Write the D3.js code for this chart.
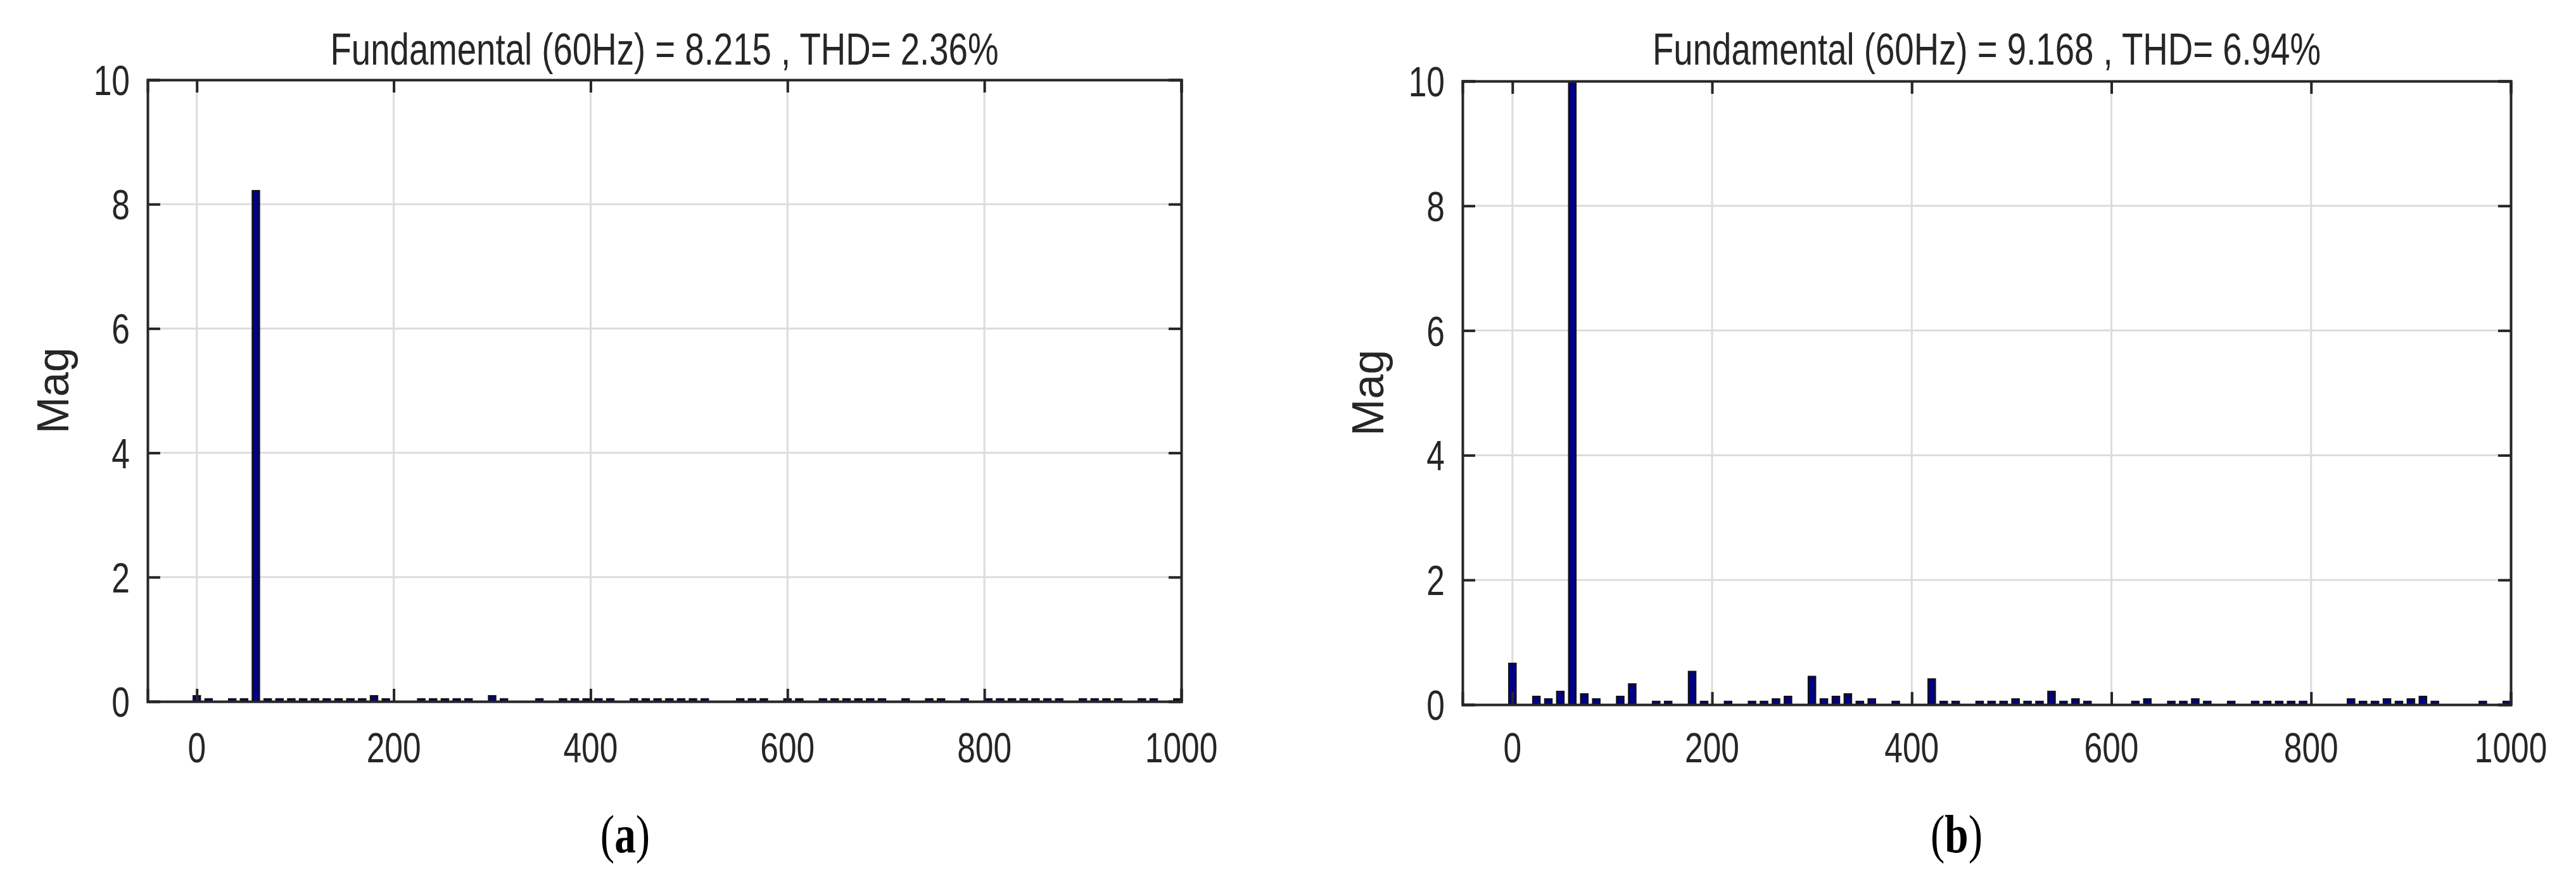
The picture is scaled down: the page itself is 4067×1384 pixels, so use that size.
<!DOCTYPE html>
<html><head><meta charset="utf-8">
<script src="https://cdn.jsdelivr.net/npm/d3@7"></script>
<style>body{margin:0;background:#fff}</style></head>
<body><svg id="c" width="4067" height="1384"></svg>
<script>
const xTicks=[0,200,400,600,800,1000];
const yTicks=[0,2,4,6,8,10];
const titleA="Fundamental (60Hz) = 8.215 , THD= 2.36%";
const titleB="Fundamental (60Hz) = 9.168 , THD= 6.94%";
const freqA=[0,12,36,48,60,72,84,96,108,120,132,144,156,168,180,192,228,240,252,264,276,300,312,348,372,384,396,408,420,444,456,468,480,492,504,516,552,564,576,600,612,636,648,660,672,684,696,720,744,756,780,804,816,828,840,852,864,876,900,912,924,936,960,972,996];
const magA=[0.09,0.04,0.04,0.04,8.215,0.04,0.04,0.04,0.04,0.04,0.04,0.04,0.04,0.04,0.09,0.04,0.04,0.04,0.04,0.04,0.04,0.09,0.04,0.04,0.04,0.04,0.04,0.04,0.04,0.04,0.04,0.04,0.04,0.04,0.04,0.04,0.04,0.04,0.04,0.04,0.04,0.04,0.04,0.04,0.04,0.04,0.04,0.04,0.04,0.04,0.04,0.04,0.04,0.04,0.04,0.04,0.04,0.04,0.04,0.04,0.04,0.04,0.04,0.04,0.04];
const freqB=[0,24,36,48,60,72,84,108,120,144,156,180,192,216,240,252,264,276,300,312,324,336,348,360,384,420,432,444,468,480,492,504,516,528,540,552,564,576,624,636,660,672,684,696,720,744,756,768,780,792,840,852,864,876,888,900,912,924,972,996];
const magB=[0.66,0.13,0.09,0.21,10,0.17,0.09,0.13,0.33,0.05,0.05,0.53,0.05,0.05,0.05,0.05,0.09,0.13,0.45,0.09,0.13,0.17,0.05,0.09,0.05,0.41,0.05,0.05,0.05,0.05,0.05,0.09,0.05,0.05,0.21,0.05,0.09,0.05,0.05,0.09,0.05,0.05,0.09,0.05,0.05,0.05,0.05,0.05,0.05,0.05,0.09,0.05,0.05,0.09,0.05,0.09,0.13,0.05,0.05,0.05];

const svg=d3.select("#c");
const SX=0.78;
function txt(g,x,y,s,size,anchor,opts={}){
  const t=g.append("text").attr("transform",`translate(${x},${y}) scale(${opts.sx||SX},1)${opts.rot?" rotate(-90)":""}`)
   .attr("text-anchor",anchor).attr("font-family",opts.ff||"Liberation Sans, Arial, sans-serif")
   .attr("font-size",size).attr("fill",opts.fill||"#262626").text(s);
  return t;
}
function panel(id,L,R,T,B,freq,mag,title,label,labelX){
  const g=svg.append("g");
  const x=d3.scaleLinear().domain([-50,1000]).range([L,R]);
  const y=d3.scaleLinear().domain([0,10]).range([B,T]);
  g.append("defs").append("clipPath").attr("id",id).append("rect").attr("x",L).attr("y",T).attr("width",R-L).attr("height",B-T);
  // grid
  g.selectAll(".gx").data(xTicks).join("line").attr("x1",d=>x(d)).attr("x2",d=>x(d)).attr("y1",T).attr("y2",B).attr("stroke","#dcdcdc").attr("stroke-width",3);
  g.selectAll(".gy").data(yTicks).join("line").attr("y1",d=>y(d)).attr("y2",d=>y(d)).attr("x1",L).attr("x2",R).attr("stroke","#dcdcdc").attr("stroke-width",3);
  // bars
  const bw=x(7)-x(0);
  g.append("g").attr("clip-path",`url(#${id})`).selectAll("rect").data(freq.map((f,i)=>[f,mag[i]])).join("rect")
   .attr("x",d=>x(d[0])-bw/2).attr("width",bw).attr("y",d=>y(d[1])).attr("height",d=>B-y(d[1]))
   .attr("fill","#00008b").attr("stroke","#111").attr("stroke-width",2.5);
  // axes
  const ax=g.append("g").attr("transform",`translate(0,${B})`).call(d3.axisBottom(x).tickValues(xTicks).tickSize(-20).tickFormat(""));
  const ax2=g.append("g").attr("transform",`translate(0,${T})`).call(d3.axisTop(x).tickValues(xTicks).tickSize(-20).tickFormat(""));
  const ay=g.append("g").attr("transform",`translate(${L},0)`).call(d3.axisLeft(y).tickValues(yTicks).tickSize(-20).tickFormat(""));
  const ay2=g.append("g").attr("transform",`translate(${R},0)`).call(d3.axisRight(y).tickValues(yTicks).tickSize(-20).tickFormat(""));
  [ax,ax2,ay,ay2].forEach(a=>{a.selectAll("path,line").attr("stroke","#262626").attr("stroke-width",4);});
  xTicks.forEach(v=>txt(g,x(v),1203,v,66,"middle"));
  yTicks.forEach(v=>txt(g,L-28,y(v)+24,v,66,"end"));
  txt(g,(L+R)/2,102,title,70,"middle");
  txt(g,L-125,(T+B)/2,"Mag",70,"middle",{rot:true,sx:1.0,fill:"#262626"});
  const lt=g.append("text").attr("transform",`translate(${labelX},1345) scale(0.8,1)`).attr("text-anchor","middle")
   .attr("font-family","Liberation Serif, Times New Roman, serif").attr("font-size",84).attr("fill","#000");
  lt.append("tspan").text("(");lt.append("tspan").attr("font-weight","bold").text(label);lt.append("tspan").text(")");
}
panel("ca",233,1865,126,1107,freqA,magA,titleA,"a",987);
panel("cb",2309,3964,128,1112,freqB,magB,titleB,"b",3089);
</script></body></html>
